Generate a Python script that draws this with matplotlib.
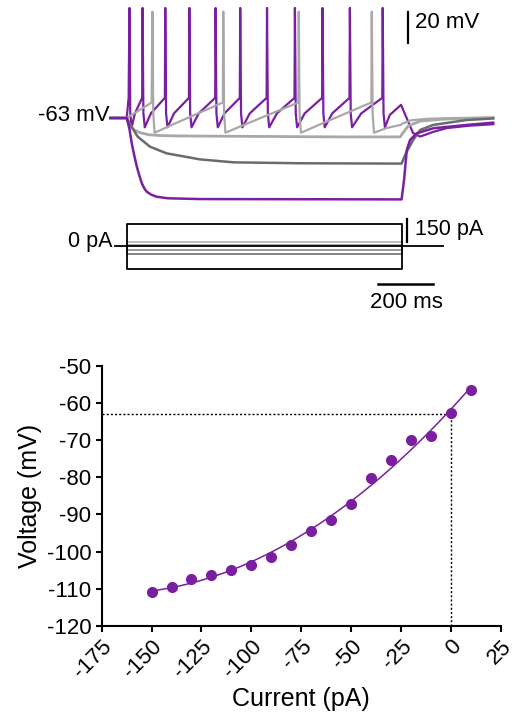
import numpy as np
import matplotlib
matplotlib.use('Agg')
import matplotlib.pyplot as plt

plt.rcParams['font.family'] = ['Liberation Sans', 'DejaVu Sans']
plt.rcParams['axes.unicode_minus'] = False

## Data

# I-V relation
current_pA = [-150, -140, -130, -120, -110, -100, -90, -80, -70, -60,
              -50, -40, -30, -20, -10, 0, 10]
voltage_mV = [-110.8, -109.5, -107.5, -106.4, -104.9, -103.6, -101.4, -98.3,
              -94.5, -91.4, -87.1, -80.2, -75.3, -69.9, -68.9, -62.8, -56.4]
rmp_mV = -63

# spike times (ms from step onset) for the two firing traces
purple_spikes_ms = [10, 58, 141, 229, 325, 415, 513, 615, 716, 816, 936]
gray_spikes_ms = [94, 353, 629, 896]

# end of the firing traces after the last spike: (t ms, mV)
purple_tail_t = [962, 1003, 1047, 1073, 1120, 1170, 1250, 1340]
purple_tail_v = [-61, -54.5, -72.7, -75, -72, -69.5, -68, -67]
gray_tail_t = [950, 1000, 1010, 1040, 1100, 1200, 1340]
gray_tail_v = [-69.5, -67.5, -66.5, -64.5, -63.5, -63, -62.8]

# subthreshold traces: (t ms, mV) vertices
sub_t = [-60, 0, 10, 25, 50, 80, 120, 200, 400, 600, 800, 1000, 1008, 1030,
         1073, 1150, 1250, 1340]
sub_v = [-63, -63, -67, -70.5, -72.5, -73.8, -74.3, -74.6, -74.8, -75, -75.2,
         -75.2, -73, -68, -65, -63.8, -63.2, -62.8]

mid_t = [-60, 0, 12, 40, 85, 146, 268, 390, 634, 974, 1005, 1020, 1048, 1073,
         1120, 1242, 1340]
mid_v = [-63, -63, -67, -75, -81.5, -85.8, -89.7, -91.6, -92.2, -92.4, -92.4,
         -86, -77, -70.7, -67.5, -64.3, -63.3]

hyp_t = [-60, 0, 10, 18, 28, 37, 46, 55, 64, 73, 90, 110, 150, 268, 1000, 1005,
         1014, 1024, 1036, 1060, 1121, 1242, 1340]
hyp_v = [-63, -63, -70, -79, -87.5, -94.4, -100, -105, -108.3, -110.5, -112.5,
         -113.8, -114.8, -115.3, -115.5, -115.5, -103, -83.6, -77.2, -72.9,
         -69.6, -67.5, -66]

# current steps (pA)
step_pA = [-49, -23, 10, 27, 150, -150]
step_colors = ['#7A7A7A', '#8E8E8E', '#A4A4A4', '#B8B8B8', 'black', 'black']
step_end_ms = 1005

## Colours
purple = '#7A1FA0'
light_gray = '#A8A8A8'
dark_gray = '#6B6B6B'

W, H = 517, 716


def fx(x):
    return x / W


def fy(y):
    return 1 - y / H


def spiking_trace(spikes, trough, mid, threshold, peak, tail_t, tail_v):
    t = [-60, 0, spikes[0] - 3]
    v = [rmp_mV, rmp_mV, threshold]
    for i, s in enumerate(spikes):
        t += [s, s + 3, s + 8]
        v += [peak, -60, trough]
        if i + 1 < len(spikes):
            gap = spikes[i + 1] - s - 8
            t += [s + 8 + 0.3 * gap, spikes[i + 1] - 1.5]
            v += [mid, threshold]
    return t + tail_t, v + tail_v


fig = plt.figure(figsize=(W / 100, H / 100), dpi=100)

## Voltage traces
ax_v = fig.add_axes([0, fy(210), 1, 210 / H])
ax_v.set_xlim(-463.3, 1427)
ax_v.set_ylim(-122.35, 13.13)
ax_v.axis('off')

t, v = spiking_trace(purple_spikes_ms, -69, -60, -50, 8, purple_tail_t, purple_tail_v)
ax_v.plot(t, v, color=purple, lw=1.6)
t, v = spiking_trace(gray_spikes_ms, -72.5, -66.5, -53, 5.6, gray_tail_t, gray_tail_v)
ax_v.plot(t, v, color=light_gray, lw=1.6)
ax_v.plot(sub_t, sub_v, color=light_gray, lw=2)
ax_v.plot(mid_t, mid_v, color=dark_gray, lw=1.8)
ax_v.plot(hyp_t, hyp_v, color=purple, lw=1.8)

# 20 mV scale bar
ax_v.plot([1030, 1030], [-14.4, 5.6], color='black', lw=1.6)

## Current steps
ax_i = fig.add_axes([0, fy(320), 1, 110 / H])
ax_i.set_xlim(-463.3, 1427)
ax_i.set_ylim(-479.5, 238.1)
ax_i.axis('off')
for level, col in zip(step_pA, step_colors):
    ax_i.plot([0, 0, step_end_ms, step_end_ms], [0, level, level, 0],
              color=col, lw=1.3)
ax_i.plot([-42, 1158], [0, 0], color='black', lw=1.3)
ax_i.plot([1026, 1026], [30, 180], color='black', lw=1.6)
ax_i.plot([919, 1120], [-247, -247], color='black', lw=1.8)

fig.text(fx(110), fy(115.5), '-63 mV', ha='right', va='center', fontsize=16)
fig.text(fx(415), fy(22), '20 mV', ha='left', va='center', fontsize=16)
fig.text(fx(113), fy(242), '0 pA', ha='right', va='center', fontsize=15.5)
fig.text(fx(415), fy(230), '150 pA', ha='left', va='center', fontsize=15.5)
fig.text(fx(406), fy(302), '200 ms', ha='center', va='center', fontsize=16)

## I-V plot
ax = fig.add_axes([fx(101.7), fy(625.7), 399 / W, 259.7 / H])
coef = np.polyfit(current_pA, voltage_mV, 2)
xfit = np.linspace(min(current_pA), max(current_pA), 200)
ax.plot(xfit, np.polyval(coef, xfit), color=purple, lw=1.1, zorder=2)
ax.plot(current_pA, voltage_mV, 'o', color=purple, ms=7, zorder=3)
ax.plot([-175, 0], [rmp_mV, rmp_mV], color='black', lw=1, ls=(0, (1.5, 1.5)), zorder=1)
ax.plot([0, 0], [-120, rmp_mV], color='black', lw=1, ls=(0, (1.5, 1.5)), zorder=1)

ax.set_xlim(-175, 25)
ax.set_ylim(-120, -50)
ax.set_xticks(np.arange(-175, 26, 25))
ax.set_yticks(np.arange(-120, -49, 10))
for side in ['top', 'right']:
    ax.spines[side].set_visible(False)
for side in ['left', 'bottom']:
    ax.spines[side].set_linewidth(1.5)
ax.tick_params(width=1.5, length=4, labelsize=16)
plt.setp(ax.get_xticklabels(), rotation=45, ha='right', va='top',
         rotation_mode='anchor')
ax.set_xlabel('Current (pA)', fontsize=18, labelpad=3)
ax.set_ylabel('Voltage (mV)', fontsize=18, labelpad=3)

fig.savefig('out.png', dpi=100)
